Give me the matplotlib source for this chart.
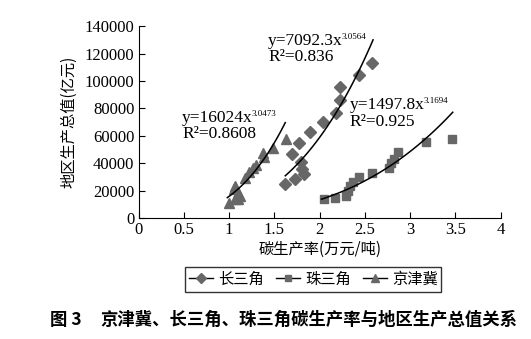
import numpy as np
import matplotlib
matplotlib.use('Agg')
import matplotlib.pyplot as plt

plt.rcParams['font.family'] = ['Liberation Serif', 'Noto Sans CJK SC']

cjk = ['Noto Sans CJK SC', 'DejaVu Sans']

# 长三角 (diamonds)
csj_x = [1.62, 1.73, 1.83, 1.81, 1.79, 1.69, 1.77, 1.89, 2.04, 2.18, 2.23, 2.22, 2.43, 2.58]
csj_y = [25000, 29000, 32500, 36000, 41000, 47000, 54500, 63000, 70000, 76500, 86000, 95500, 104500, 113000]

# 珠三角 (squares)
zsj_x = [2.05, 2.17, 2.29, 2.31, 2.34, 2.37, 2.43, 2.58, 2.77, 2.79, 2.82, 2.86, 3.17, 3.46]
zsj_y = [14000, 15000, 16500, 20000, 23500, 26500, 30000, 33000, 36500, 40000, 43000, 48500, 55500, 58000]

# 京津冀 (triangles)
jjj_x = [1.00, 1.05, 1.07, 1.07, 1.10, 1.12, 1.10, 1.17, 1.22, 1.26, 1.30, 1.37, 1.39, 1.49, 1.63]
jjj_y = [11500, 21000, 23500, 14000, 14000, 16000, 18500, 29500, 34000, 36500, 39000, 47500, 44500, 51000, 58000]

# power fits  y = a * x^b, drawn over range
fits = [
    (7092.3, 3.0564, 1.62, 2.59),
    (1497.8, 3.1694, 2.02, 3.47),
    (16024, 3.0473, 0.98, 1.62),
]
fit_text = [
    ('y=7092.3x', '3.0564', 'R²=0.836', 1.43, 135000),
    ('y=1497.8x', '3.1694', 'R²=0.925', 2.33, 88000),
    ('y=16024x', '3.0473', 'R²=0.8608', 0.48, 79000),
]

gray = '#676767'

fig = plt.figure(figsize=(5.31, 3.39), dpi=100)
ax = fig.add_axes([0.261, 0.356, 0.682, 0.567])

ax.plot(csj_x, csj_y, 'D', color=gray, ms=6, label='长三角')
ax.plot(zsj_x, zsj_y, 's', color=gray, ms=6, label='珠三角')
ax.plot(jjj_x, jjj_y, '^', color=gray, ms=7, label='京津冀')

for a, b, x0, x1 in fits:
    xx = np.linspace(x0, x1, 100)
    ax.plot(xx, a * xx ** b, '-', color='black', lw=1.1)

for eq, ex, r2, tx, ty in fit_text:
    t = ax.text(tx, ty, eq, fontsize=12.5, va='top', ha='left')
    ax.annotate(ex, xy=(0.985, 1.02), xycoords=t, fontsize=6.5, va='top', ha='left')
    ax.text(tx, ty - 12000, r2, fontsize=12.5, va='top', ha='left')

ax.set_xlim(0, 4)
ax.set_ylim(0, 140000)
ax.set_xticks([0, 0.5, 1, 1.5, 2, 2.5, 3, 3.5, 4])
ax.set_xticklabels(['0', '0.5', '1', '1.5', '2', '2.5', '3', '3.5', '4'])
ax.set_yticks(range(0, 140001, 20000))
ax.tick_params(direction='in', length=4, labelsize=12, pad=3)
ax.spines['top'].set_visible(False)
ax.spines['right'].set_visible(False)

ax.set_xlabel('碳生产率(万元/吨)', fontsize=11, family=cjk, labelpad=2)
ax.set_ylabel('地区生产总值(亿元)', fontsize=11, family=cjk, labelpad=5)

# legend with short line through marker
handles = []
for mk, ms in [('D', 5), ('s', 5), ('^', 5.5)]:
    h, = ax.plot([], [], '-', marker=mk, color='black', mfc=gray, mec=gray, ms=ms, lw=1)
    handles.append(h)
leg = fig.legend(handles, ['长三角', '珠三角', '京津冀'], loc='center',
                 bbox_to_anchor=(0.59, 0.176), ncol=3, frameon=True, fancybox=False,
                 prop={'family': cjk, 'size': 11}, handlelength=1.6, handletextpad=0.3,
                 columnspacing=0.8, borderpad=0.25, edgecolor='black')
leg.get_frame().set_linewidth(1.0)

fig.text(0.094, 0.056, '图 3', fontsize=12.5, fontweight='bold', family=cjk, va='center')
fig.text(0.188, 0.056, '京津冀、长三角、珠三角碳生产率与地区生产总值关系', fontsize=12.5,
         fontweight='bold', family=cjk, va='center')

fig.savefig('out.png', dpi=100)
